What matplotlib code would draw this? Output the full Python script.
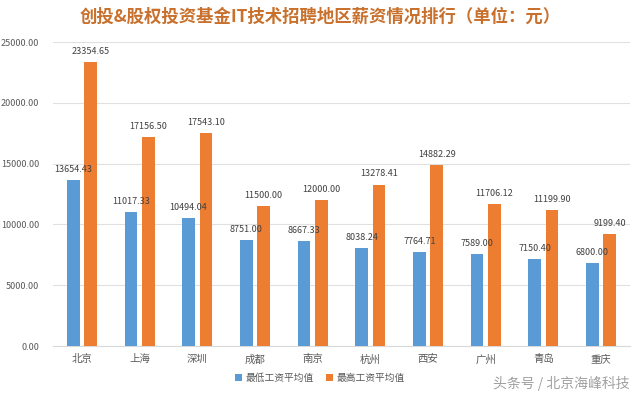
import matplotlib
matplotlib.use("Agg")
import matplotlib.pyplot as plt
import numpy as np

plt.rcParams['font.family'] = ['Noto Sans CJK SC', 'DejaVu Sans']

cities = ['北京', '上海', '深圳', '成都', '南京', '杭州', '西安', '广州', '青岛', '重庆']
low_avg = [13654.43, 11017.33, 10494.04, 8751.00, 8667.33, 8038.24, 7764.71, 7589.00, 7150.40, 6800.00]
high_avg = [23354.65, 17156.50, 17543.10, 11500.00, 12000.00, 13278.41, 14882.29, 11706.12, 11199.90, 9199.40]
series_names = ['最低工资平均值', '最高工资平均值']
title = '创投&股权投资基金IT技术招聘地区薪资情况排行（单位：元）'
yticks = [0, 5000, 10000, 15000, 20000, 25000]

blue = '#5B9BD5'
orange = '#ED7D31'

fig = plt.figure(figsize=(6.4, 3.96), dpi=100)
ax = fig.add_axes([53/640, 1 - 346/396, 577/640, (346 - 42)/396])

x = np.arange(len(cities))
w = 0.22
off = 0.15
b1 = ax.bar(x - off, low_avg, w, color=blue, label=series_names[0], zorder=3)
b2 = ax.bar(x + off, high_avg, w, color=orange, label=series_names[1], zorder=3)

for rect, v in zip(b1, low_avg):
    ax.text(rect.get_x() + rect.get_width() / 2, v + 500, f'{v:.2f}', ha='center', va='bottom',
            fontsize=6.5, color='#404040', zorder=4)
for rect, v in zip(b2, high_avg):
    ax.text(rect.get_x() + rect.get_width() / 2, v + 500, f'{v:.2f}', ha='center', va='bottom',
            fontsize=6.5, color='#404040', zorder=4)

ax.set_xlim(-0.5, len(cities) - 0.5)
ax.set_ylim(0, 25000)
ax.set_yticks(yticks)
ax.set_yticklabels([f'{t:.2f}' for t in yticks], fontsize=6.5, color='#595959')
ax.set_xticks(x)
ax.set_xticklabels(cities, fontsize=7.5, color='#595959')
ax.tick_params(axis='both', length=0, pad=6)
ax.tick_params(axis='y', pad=10)
ax.grid(axis='y', color='#E0E0E0', linewidth=0.8, zorder=0)
for s in ['top', 'right', 'left']:
    ax.spines[s].set_visible(False)
ax.spines['bottom'].set_color('#D9D9D9')

fig.text(0.5, 1 - 17/396, title, ha='center', va='center', fontsize=12.5, fontweight='bold', color='#C8702C')

leg = fig.legend(handles=[b1, b2], labels=series_names, loc='center', bbox_to_anchor=(0.5, 1 - 378/396),
                 ncol=2, frameon=False, fontsize=7, handlelength=0.7, handleheight=0.7,
                 columnspacing=1.2, handletextpad=0.4)
for t in leg.get_texts():
    t.set_color('#595959')

fig.text(630/640, 1 - 383/396, '头条号 / 北京海峰科技', ha='right', va='center', fontsize=10, color='#A0A0A0')

fig.savefig('out.png', dpi=100, facecolor='white')
